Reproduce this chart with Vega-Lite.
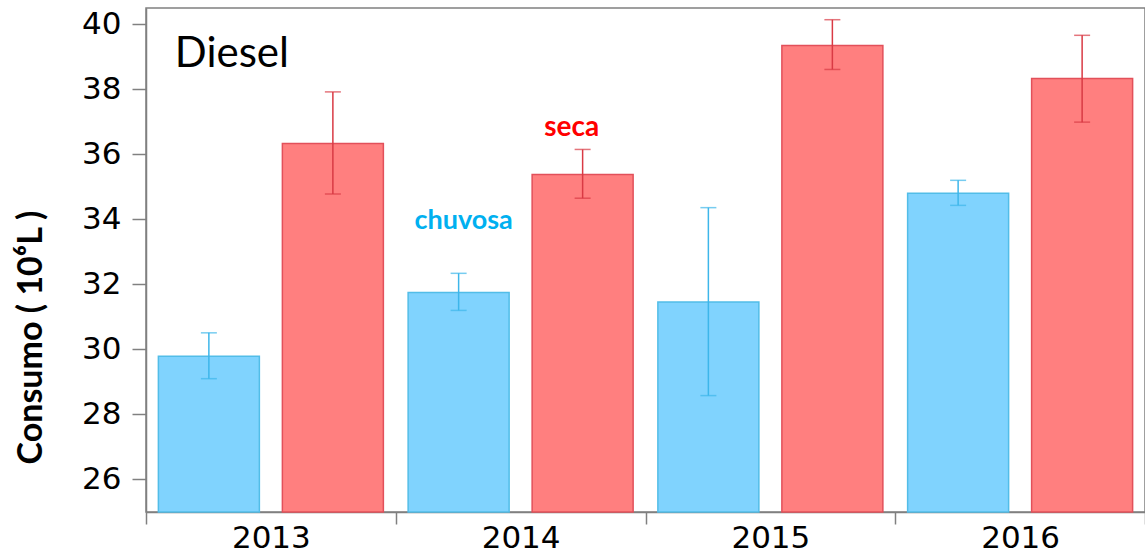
{
  "$schema": "https://vega.github.io/schema/vega-lite/v6.json",
  "width": 999,
  "height": 504,
  "autosize": {"type": "none"},
  "padding": {"left": 146, "top": 8, "right": 0, "bottom": 41},
  "background": "white",
  "config": {
    "view": {"stroke": "#808080", "strokeWidth": 1.5},
    "axis": {"grid": false, "domainColor": "#808080", "domainWidth": 1.5, "tickColor": "#808080", "tickWidth": 1.5, "labelColor": "#000000", "labelFont": "DejaVu Sans"}
  },
  "datasets": {
    "consumo": [
      {"year": "2013", "season": "chuvosa", "value": 29.79, "lo": 29.10, "hi": 30.51},
      {"year": "2013", "season": "seca", "value": 36.33, "lo": 34.78, "hi": 37.92},
      {"year": "2014", "season": "chuvosa", "value": 31.75, "lo": 31.20, "hi": 32.34},
      {"year": "2014", "season": "seca", "value": 35.38, "lo": 34.65, "hi": 36.15},
      {"year": "2015", "season": "chuvosa", "value": 31.46, "lo": 28.58, "hi": 34.36},
      {"year": "2015", "season": "seca", "value": 39.35, "lo": 38.61, "hi": 40.14},
      {"year": "2016", "season": "chuvosa", "value": 34.80, "lo": 34.43, "hi": 35.20},
      {"year": "2016", "season": "seca", "value": 38.33, "lo": 36.99, "hi": 39.66}
    ],
    "notes": [
      {"label": "Diesel", "year": "2013", "season": "chuvosa", "pos": 38.68},
      {"label": "chuvosa", "year": "2014", "season": "chuvosa", "pos": 33.69},
      {"label": "seca", "year": "2014", "season": "seca", "pos": 36.55}
    ]
  },
  "encoding": {
    "x": {
      "field": "year", "type": "nominal", "title": null,
      "scale": {"paddingInner": 0, "paddingOuter": 0},
      "axis": {"tickSize": 12, "labelFontSize": 31, "labelBaseline": "alphabetic", "labelPadding": 23, "tickBand": "extent", "labelAngle": 0}
    },
    "xOffset": {"field": "season", "type": "nominal", "scale": {"domain": ["chuvosa", "seca"], "paddingInner": 0.1855, "paddingOuter": 0.0998}}
  },
  "layer": [
    {
      "data": {"name": "consumo"},
      "mark": {"type": "bar", "strokeWidth": 1.5},
      "encoding": {
        "y": {
          "field": "value", "type": "quantitative", "stack": null, "title": "Consumo ( 10⁶L )",
          "scale": {"domain": [25, 40.5], "nice": false, "zero": false},
          "axis": {
            "values": [26, 28, 30, 32, 34, 36, 38, 40],
            "tickSize": 14, "labelFontSize": 31, "labelPadding": 11,
            "titleFont": "Lato", "titleFontWeight": "bold", "titleFontSize": 34, "titleColor": "#000000",
            "titleAngle": -90, "titleX": -115, "titleY": 329, "titleAlign": "center", "titleBaseline": "middle"
          }
        },
        "fill": {"field": "season", "type": "nominal", "legend": null, "scale": {"domain": ["chuvosa", "seca"], "range": ["#80D3FE", "#FF7F7F"]}},
        "stroke": {"field": "season", "type": "nominal", "legend": null, "scale": {"domain": ["chuvosa", "seca"], "range": ["#52BDE8", "#E2505A"]}}
      }
    },
    {
      "data": {"name": "consumo"},
      "mark": {"type": "rule", "strokeWidth": 1.5},
      "encoding": {
        "y": {"field": "lo", "type": "quantitative", "title": "Consumo ( 10⁶L )"},
        "y2": {"field": "hi"},
        "stroke": {"condition": {"test": "datum.season === 'seca'", "value": "#D93A44"}, "value": "#3DB6EA"}
      }
    },
    {
      "data": {"name": "consumo"},
      "transform": [{"fold": ["lo", "hi"], "as": ["end", "bound"]}],
      "mark": {"type": "tick", "size": 16, "thickness": 1.5, "orient": "horizontal"},
      "encoding": {
        "y": {"field": "bound", "type": "quantitative", "title": "Consumo ( 10⁶L )"},
        "color": {"condition": {"test": "datum.season === 'seca'", "value": "#D93A44"}, "value": "#3DB6EA"}
      }
    },
    {
      "data": {"name": "notes"},
      "transform": [{"filter": "datum.label === 'Diesel'"}],
      "mark": {"type": "text", "font": "Lato", "fontSize": 42, "align": "left", "baseline": "alphabetic", "dx": -34, "color": "#000000"},
      "encoding": {"y": {"field": "pos", "type": "quantitative", "title": "Consumo ( 10⁶L )"}, "text": {"field": "label"}}
    },
    {
      "data": {"name": "notes"},
      "transform": [{"filter": "datum.label === 'chuvosa'"}],
      "mark": {"type": "text", "font": "Lato", "fontSize": 27, "fontWeight": "bold", "align": "center", "baseline": "alphabetic", "dx": 5, "color": "#00B0F0"},
      "encoding": {"y": {"field": "pos", "type": "quantitative", "title": "Consumo ( 10⁶L )"}, "text": {"field": "label"}}
    },
    {
      "data": {"name": "notes"},
      "transform": [{"filter": "datum.label === 'seca'"}],
      "mark": {"type": "text", "font": "Lato", "fontSize": 28, "fontWeight": "bold", "align": "center", "baseline": "alphabetic", "dx": -11, "color": "#FF0000"},
      "encoding": {"y": {"field": "pos", "type": "quantitative", "title": "Consumo ( 10⁶L )"}, "text": {"field": "label"}}
    }
  ]
}
